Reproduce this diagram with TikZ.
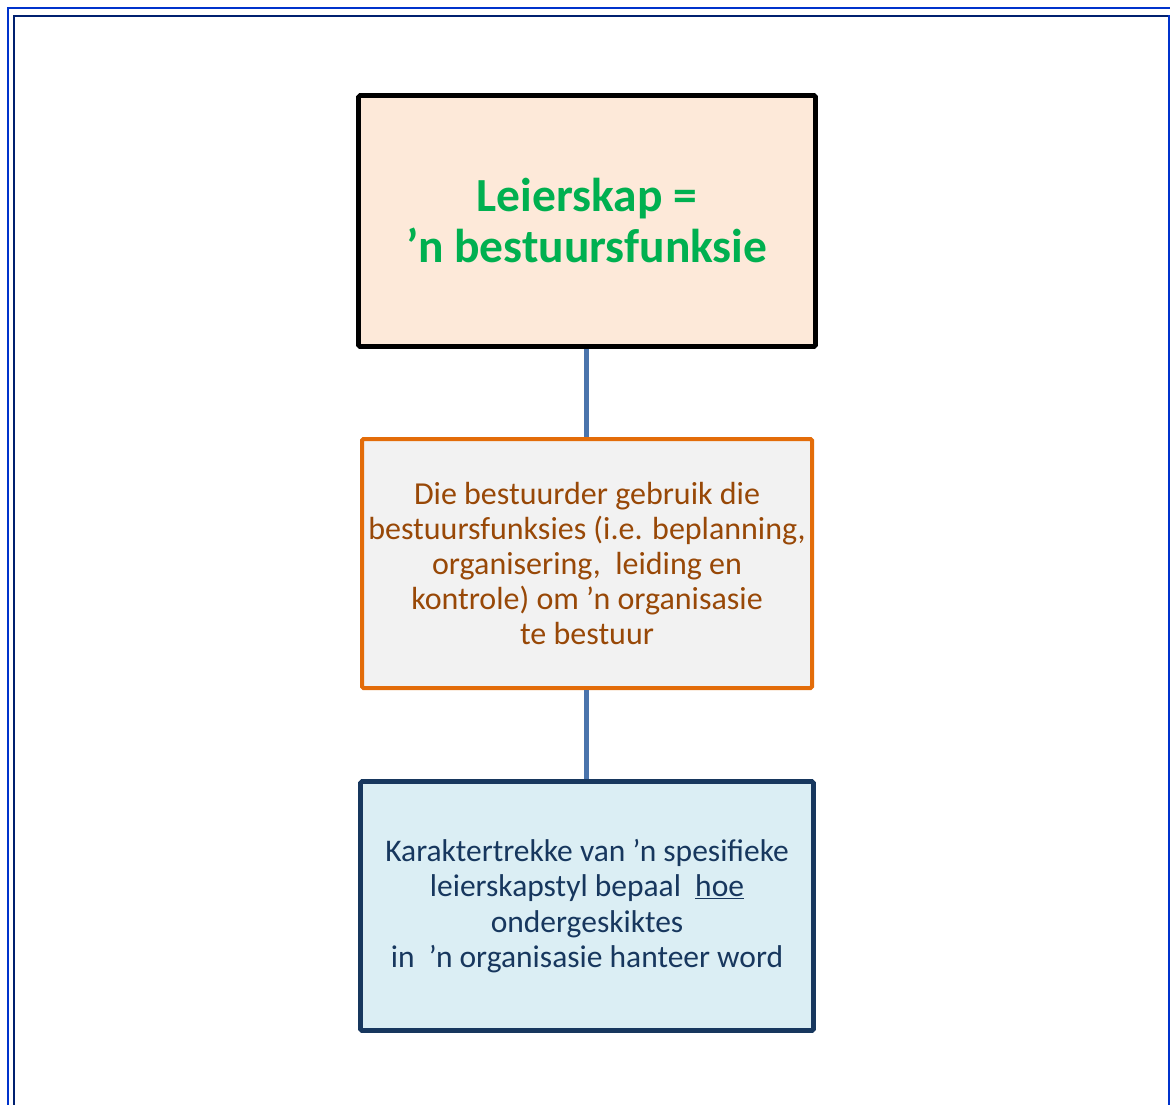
\documentclass[tikz,border=0pt]{standalone}
\usepackage{fontspec}
\setmainfont{Carlito}
\definecolor{frameblue}{HTML}{0033CC}
\definecolor{framenavy}{HTML}{002070}
\definecolor{topfill}{HTML}{FDE9D9}
\definecolor{midfill}{HTML}{F2F2F2}
\definecolor{lowfill}{HTML}{DBEEF4}
\definecolor{titlegreen}{HTML}{00B050}
\definecolor{midorange}{HTML}{E36C09}
\definecolor{midtext}{HTML}{984807}
\definecolor{lownavy}{HTML}{17375E}
\definecolor{linkblue}{HTML}{4A74AC}
\tikzset{
  x=1pt, y=-1pt,
  card/.style={rectangle, align=center, inner sep=0pt, rounded corners=1.5pt},
  link/.style={draw=linkblue, line width=5pt},
}
\begin{document}
\begin{tikzpicture}
\useasboundingbox (0,0) rectangle (1170,1104);
% page frame
\draw[frameblue, line width=2.6pt] (8,1110) -- (8,8) -- (1175,8);
\draw[framenavy, line width=2.6pt] (14,1110) -- (14,16) -- (1169,16);
\draw[frameblue, line width=2.6pt] (1169,15) -- (1169,1110);

% boxes
\node[card, draw=black, fill=topfill, line width=4.6pt,
      minimum width=457pt, minimum height=251pt,
      text=titlegreen, font=\fontsize{47.5}{51}\selectfont\bfseries]
  (lead) at (587,221) {Leierskap =\\’n bestuursfunksie};

\node[card, draw=midorange, fill=midfill, line width=4pt,
      minimum width=450pt, minimum height=249pt,
      text=midtext, font=\fontsize{32}{35}\selectfont]
  (mgmt) at (587,563.5) {Die bestuurder gebruik die\\bestuursfunksies (i.e. beplanning,\\organisering,\ \ leiding en\\kontrole) om ’n organisasie\\te bestuur};

\node[card, draw=lownavy, fill=lowfill, line width=4.6pt,
      minimum width=453pt, minimum height=249pt,
      text=lownavy, font=\fontsize{31.5}{35.3}\selectfont]
  (style) at (587,906) {Karaktertrekke van ’n spesifieke\\leierskapstyl bepaal\ \ \underline{hoe}\\ondergeskiktes\\in\ \ ’n organisasie hanteer word};

% connectors
\draw[link] (lead.south -| 586,0) -- (mgmt.north -| 586,0);
\draw[link] (mgmt.south -| 586,0) -- (style.north -| 586,0);
\end{tikzpicture}
\end{document}
